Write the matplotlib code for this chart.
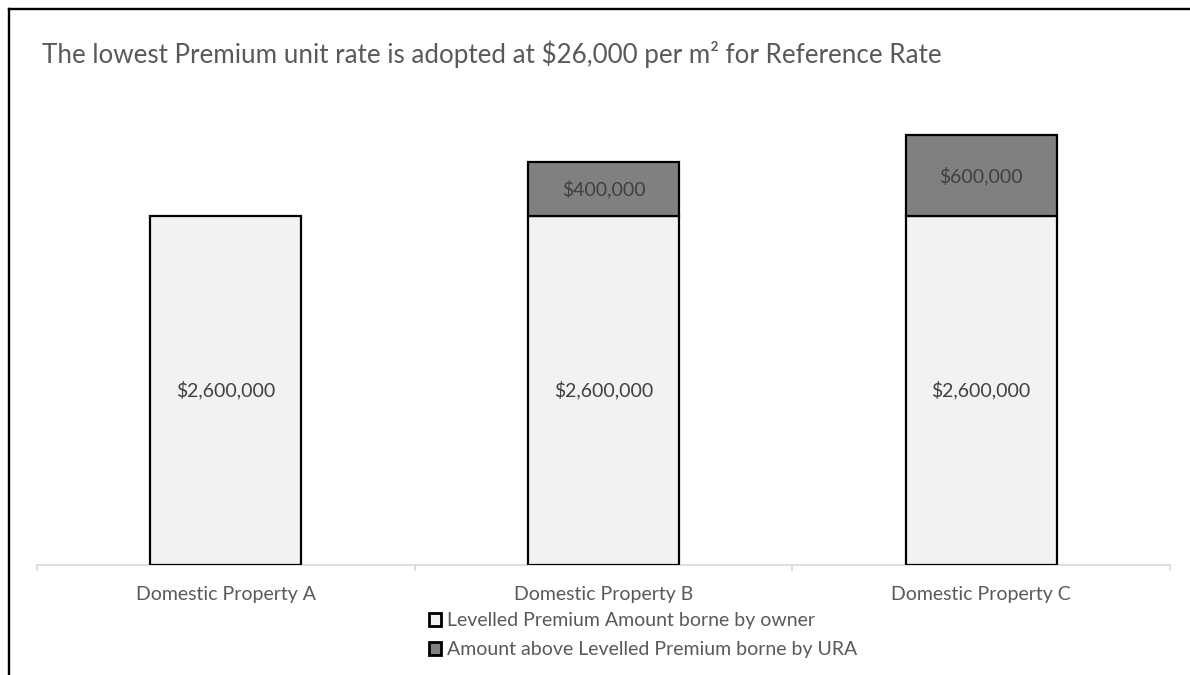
import matplotlib
matplotlib.use("Agg")
import matplotlib.pyplot as plt
from matplotlib.lines import Line2D
from matplotlib.patches import Patch

plt.rcParams['font.family'] = ['Lato', 'DejaVu Sans']

# Chart data
categories = ["Domestic Property A", "Domestic Property B", "Domestic Property C"]
owner_amount = [2600000, 2600000, 2600000]
ura_amount = [0, 400000, 600000]
series_names = ["Levelled Premium Amount borne by owner",
                "Amount above Levelled Premium borne by URA"]
title = "The lowest Premium unit rate is adopted at $26,000 per m\u00b2 for Reference Rate"

W, H = 1190, 675
fig = plt.figure(figsize=(W / 100, H / 100), dpi=100)
ax = fig.add_axes([37 / W, 1 - 565 / H, (1170 - 37) / W, (565 - 95) / H])

light = "#F2F2F2"
dark = "#808080"
text_grey = "#595959"
label_grey = "#404040"

x = list(range(len(categories)))
b1 = ax.bar(x, owner_amount, width=0.4, color=light, edgecolor="black", linewidth=1.6, zorder=3)
b2 = ax.bar(x, ura_amount, width=0.4, bottom=owner_amount, color=dark,
            edgecolor="black", linewidth=1.6, zorder=3)
# hide empty URA segment
for rect, v in zip(b2, ura_amount):
    if v == 0:
        rect.set_visible(False)

fmt = lambda v: "${:,.0f}".format(v)
ax.bar_label(b1, labels=[fmt(v) for v in owner_amount], label_type="center",
             fontsize=14, color=label_grey)
ax.bar_label(b2, labels=[fmt(v) if v else "" for v in ura_amount], label_type="center",
             fontsize=14, color=label_grey)

ax.set_xlim(-0.5, len(categories) - 0.5)
ax.set_ylim(0, 3500000)
for s in ["top", "left", "right"]:
    ax.spines[s].set_visible(False)
ax.spines["bottom"].set_color("#D9D9D9")
ax.spines["bottom"].set_linewidth(1.2)
ax.set_yticks([])
ax.set_xticks(x)
ax.set_xticklabels(categories, fontsize=14, color=text_grey)
ax.tick_params(axis="x", which="major", length=0, pad=15)
ax.set_xticks([i - 0.5 for i in range(len(categories) + 1)], minor=True)
ax.tick_params(axis="x", which="minor", length=4, width=1.2, color="#D9D9D9", direction="out")

fig.text(42 / W, 1 - 54 / H, title, fontsize=18.7, color=text_grey, va="center", ha="left")

handles = [Patch(facecolor=light, edgecolor="black", linewidth=2.0),
           Patch(facecolor=dark, edgecolor="black", linewidth=2.0)]
fig.legend(handles, series_names, loc="upper left", bbox_to_anchor=(429 / W, 1 - 612 / H),
           frameon=False, fontsize=14, labelcolor=text_grey, handlelength=0.64,
           handleheight=0.64, handletextpad=0.28, labelspacing=0.62, borderpad=0,
           borderaxespad=0)

# figure border (left and top edges)
fig.add_artist(Line2D([8.5 / W, 8.5 / W], [0, 1 - 9 / H], transform=fig.transFigure,
                      color="black", linewidth=1.7))
fig.add_artist(Line2D([8.5 / W, 1], [1 - 9 / H, 1 - 9 / H], transform=fig.transFigure,
                      color="black", linewidth=1.7))

fig.savefig("out.png", dpi=100)
